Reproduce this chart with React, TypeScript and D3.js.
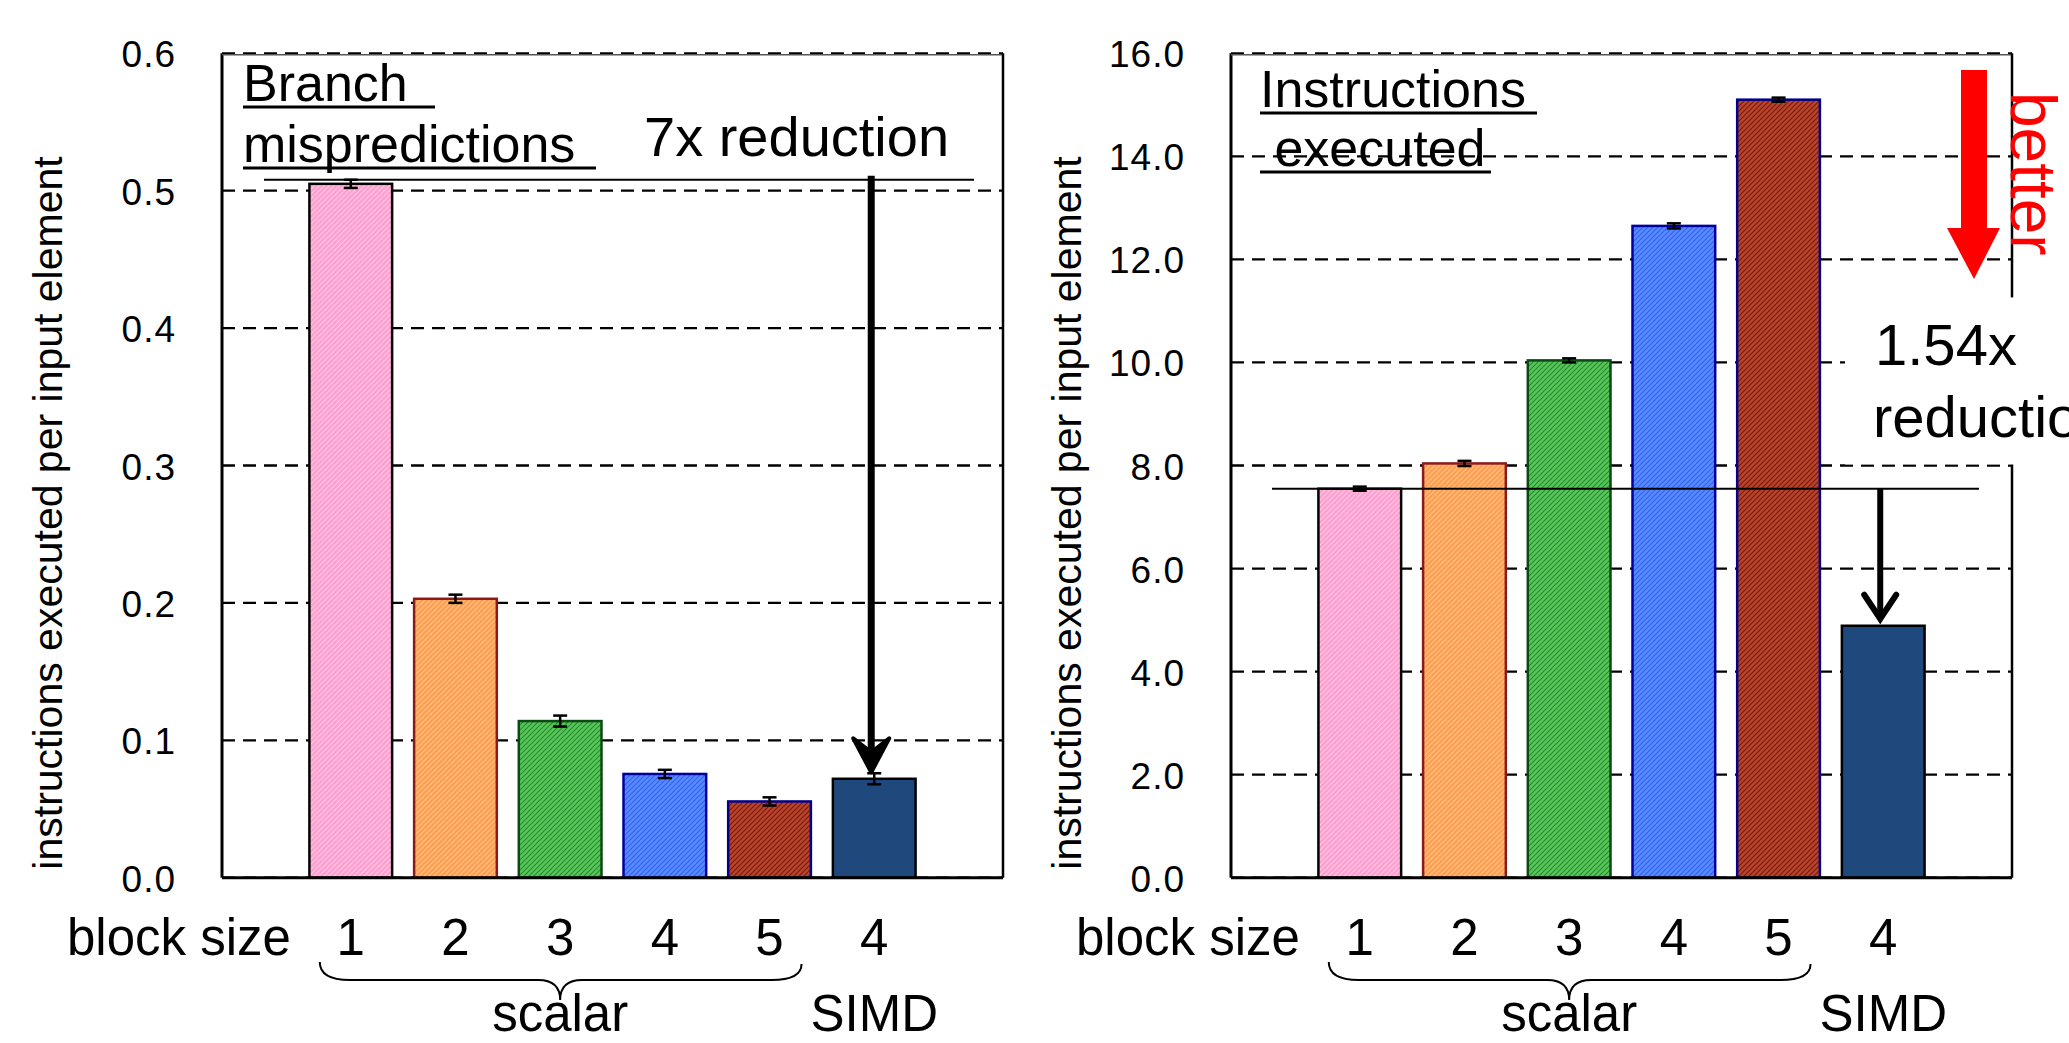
import * as d3 from 'd3';

// block sizes along the x axis (five scalar variants, one SIMD)
const blockSizes = ['1', '2', '3', '4', '5', '4'];
const groups = ['scalar', 'scalar', 'scalar', 'scalar', 'scalar', 'SIMD'];

// left panel: branch mispredictions per input element
const branchMiss = [0.505, 0.203, 0.114, 0.0755, 0.0555, 0.072];
const branchErr = [0.003, 0.003, 0.004, 0.003, 0.003, 0.004];
const branchTicks = [0, 0.1, 0.2, 0.3, 0.4, 0.5, 0.6];

// right panel: instructions executed per input element
const instrExec = [7.55, 8.04, 10.04, 12.65, 15.1, 4.89];
const instrErr = [0.04, 0.05, 0.04, 0.05, 0.04, 0];
const instrTicks = [0, 2, 4, 6, 8, 10, 12, 14, 16];

const barFills = [
  { base: '#ff9fd0', stripe: '#ffc8e6', stroke: '#000000' },
  { base: '#ff9e50', stripe: '#ffc488', stroke: '#8b1a1a' },
  { base: '#5cc45c', stripe: '#1f8f2a', stroke: '#0b4a12' },
  { base: '#5a8aff', stripe: '#2f62f0', stroke: '#0000a0' },
  { base: '#b8442a', stripe: '#7a1a10', stroke: '#00008b' },
  { base: '#1f497d', stripe: '#1f497d', stroke: '#000000' },
];

const FONT = '"Liberation Sans", Arial, sans-serif';
const W = 2069;
const H = 1043;
const TOP = 53.3;
const BOTTOM = 877.7;

function Brace({ xa, xb, xc }: { xa: number; xb: number; xc: number }) {
  const y0 = 962, y1 = 980, y2 = 1000;
  const d = `M${xa},${y0} Q${xa},${y1} ${xa + 30},${y1} L${xc - 22},${y1} Q${xc},${y1} ${xc},${y2} Q${xc},${y1} ${xc + 22},${y1} L${xb - 30},${y1} Q${xb},${y1} ${xb},${y0 + 2}`;
  return <path d={d} fill="none" stroke="#000" strokeWidth={2} />;
}

function Panel({ x0, values, errors, ticks, yMax, titleX, children, titleLines, titleOff }: any) {
  const x1 = x0 + 781;
  const x = d3.scaleBand<number>().domain(d3.range(values.length)).range([x0, x1]).paddingInner(0.21).paddingOuter(0.835);
  const y = d3.scaleLinear().domain([0, yMax]).range([BOTTOM, TOP]);
  const bw = x.bandwidth();
  const cx = (i: number) => (x(i) as number) + bw / 2;

  return (
    <g>
      {/* grid */}
      {ticks.map((t: number) => (
        <line key={t} x1={x0} x2={x1} y1={y(t)} y2={y(t)} stroke="#000" strokeWidth={2.3} strokeDasharray="13 8" />
      ))}
      {/* bars */}
      {values.map((v: number, i: number) => (
        <rect key={i} x={x(i)} y={y(v)} width={bw} height={BOTTOM - y(v)} fill={`url(#hatch${i})`} stroke={barFills[i].stroke} strokeWidth={2.5} />
      ))}
      {/* error bars */}
      {values.map((v: number, i: number) =>
        errors[i] > 0 ? (
          <g key={'e' + i} stroke="#000" strokeWidth={2.5}>
            <line x1={cx(i)} x2={cx(i)} y1={y(v + errors[i])} y2={y(v - errors[i])} />
            <line x1={cx(i) - 7} x2={cx(i) + 7} y1={y(v + errors[i])} y2={y(v + errors[i])} />
            <line x1={cx(i) - 7} x2={cx(i) + 7} y1={y(v - errors[i])} y2={y(v - errors[i])} />
          </g>
        ) : null
      )}
      {/* frame */}
      <line x1={x0} x2={x0} y1={TOP} y2={BOTTOM} stroke="#000" strokeWidth={3} />
      <line x1={x0} x2={x1} y1={BOTTOM} y2={BOTTOM} stroke="#000" strokeWidth={3} />
      <line x1={x0} x2={x1} y1={TOP + 1.5} y2={TOP + 1.5} stroke="#555" strokeWidth={1.5} />
      <line x1={x1} x2={x1} y1={TOP} y2={BOTTOM} stroke="#000" strokeWidth={2.5} />
      {/* y tick labels */}
      {ticks.map((t: number) => (
        <text key={'t' + t} x={x0 - 46} y={y(t) + 14} textAnchor="end" fontSize={37} fontFamily={FONT} letterSpacing={1}>
          {d3.format('.1f')(t)}
        </text>
      ))}
      {/* y axis title */}
      <text transform={`translate(${x0 - titleOff},513) rotate(-90)`} textAnchor="middle" fontSize={41} fontFamily={FONT}>
        instructions executed per input element
      </text>
      {/* x labels */}
      <text x={x0 - 155} y={955} fontSize={51} fontFamily={FONT}>block size</text>
      {blockSizes.map((b, i) => (
        <text key={'b' + i} x={cx(i)} y={955} textAnchor="middle" fontSize={51} fontFamily={FONT}>{b}</text>
      ))}
      <Brace xa={cx(0) - 31} xb={cx(4) + 32} xc={cx(2)} />
      <text x={cx(2)} y={1031} textAnchor="middle" fontSize={51} fontFamily={FONT}>{groups[0]}</text>
      <text x={cx(5)} y={1031} textAnchor="middle" fontSize={51} fontFamily={FONT}>{groups[5]}</text>
      {/* title */}
      {titleLines.map((l: any, k: number) => (
        <g key={'tl' + k}>
          <text x={titleX} y={l.base} fontSize={52} fontFamily={FONT} style={{ whiteSpace: 'pre' }}>{l.text}</text>
          <line x1={titleX} x2={titleX + l.ul} y1={l.base + 6} y2={l.base + 6} stroke="#000" strokeWidth={3} />
        </g>
      ))}
      {children && children(x, y, cx, x1)}
    </g>
  );
}

export default function App() {
  return (
    <svg width={W} height={H} viewBox={`0 0 ${W} ${H}`} style={{ position: 'absolute', left: 0, top: 0, display: 'block', background: '#fff' }}>
      <defs>
        {barFills.map((f, i) => (
          <pattern key={i} id={`hatch${i}`} patternUnits="userSpaceOnUse" width={5} height={5}>
            <rect width={5} height={5} fill={f.base} />
            <path d="M-1,1 l2,-2 M0,5 l5,-5 M4,6 l2,-2" stroke={f.stripe} strokeWidth={1.2} />
          </pattern>
        ))}
      </defs>
      <rect width={W} height={H} fill="#fff" />

      <Panel
        x0={222}
        values={branchMiss}
        errors={branchErr}
        ticks={branchTicks}
        yMax={0.6}
        titleX={243}
        titleOff={160}
        titleLines={[
          { text: 'Branch ', base: 101, ul: 192 },
          { text: 'mispredictions', base: 162, ul: 353 },
        ]}
      >
        {(x: any, y: any, cx: any, x1: number) => {
          const lineY = y(0.508);
          const ax = cx(5) - 3;
          const tip = y(branchMiss[5] + branchErr[5]) - 1;
          return (
            <g>
              <line x1={264} x2={x1 - 29} y1={lineY} y2={lineY} stroke="#000" strokeWidth={2} />
              <line x1={ax} x2={ax} y1={lineY - 4} y2={tip - 20} stroke="#000" strokeWidth={7} />
              <path d={`M${ax},${tip} L${ax - 18},${tip - 34} L${ax},${tip - 20} L${ax + 18},${tip - 34} Z`} fill="#000" stroke="#000" strokeWidth={4} strokeLinejoin="round" />
              <text x={644} y={156} fontSize={56} fontFamily={FONT}>7x reduction</text>
            </g>
          );
        }}
      </Panel>

      <Panel
        x0={1231}
        values={instrExec}
        errors={instrErr}
        ticks={instrTicks}
        yMax={16}
        titleX={1260}
        titleOff={150}
        titleLines={[
          { text: 'Instructions', base: 107, ul: 277 },
          { text: ' executed', base: 166, ul: 231 },
        ]}
      >
        {(x: any, y: any, cx: any, x1: number) => {
          const lineY = y(instrExec[0]);
          const ax = cx(5) - 3;
          const tip = y(instrExec[5]) - 2;
          return (
            <g>
              <rect x={x1 - 167} y={y(10) - 65} width={W - (x1 - 167)} height={y(8) - 1 - (y(10) - 65)} fill="#fff" />
              <text x={1875} y={365} fontSize={58} fontFamily={FONT}>1.54x</text>
              <text x={1873} y={437} fontSize={58} fontFamily={FONT}>reduction</text>
              <line x1={1272} x2={x1 - 33} y1={lineY} y2={lineY} stroke="#000" strokeWidth={2} />
              <line x1={ax} x2={ax} y1={lineY} y2={tip - 8} stroke="#000" strokeWidth={6} />
              <path d={`M${ax - 16},${tip - 29} L${ax},${tip - 5} L${ax + 16},${tip - 29}`} fill="none" stroke="#000" strokeWidth={6} strokeLinecap="round" />
              <path d={`M${ax - 5},${tip - 9} L${ax},${tip} L${ax + 5},${tip - 9} Z`} fill="#000" />
              {/* "better" arrow */}
              <polygon points={`${x1 - 51},70 ${x1 - 25},70 ${x1 - 25},228 ${x1 - 12},228 ${x1 - 38},279 ${x1 - 65},228 ${x1 - 51},228`} fill="#ff0000" />
              <text transform={`translate(${x1 - 1},92) rotate(90)`} fontSize={64} fontFamily={FONT} fill="#ff0000">better</text>
            </g>
          );
        }}
      </Panel>
    </svg>
  );
}
